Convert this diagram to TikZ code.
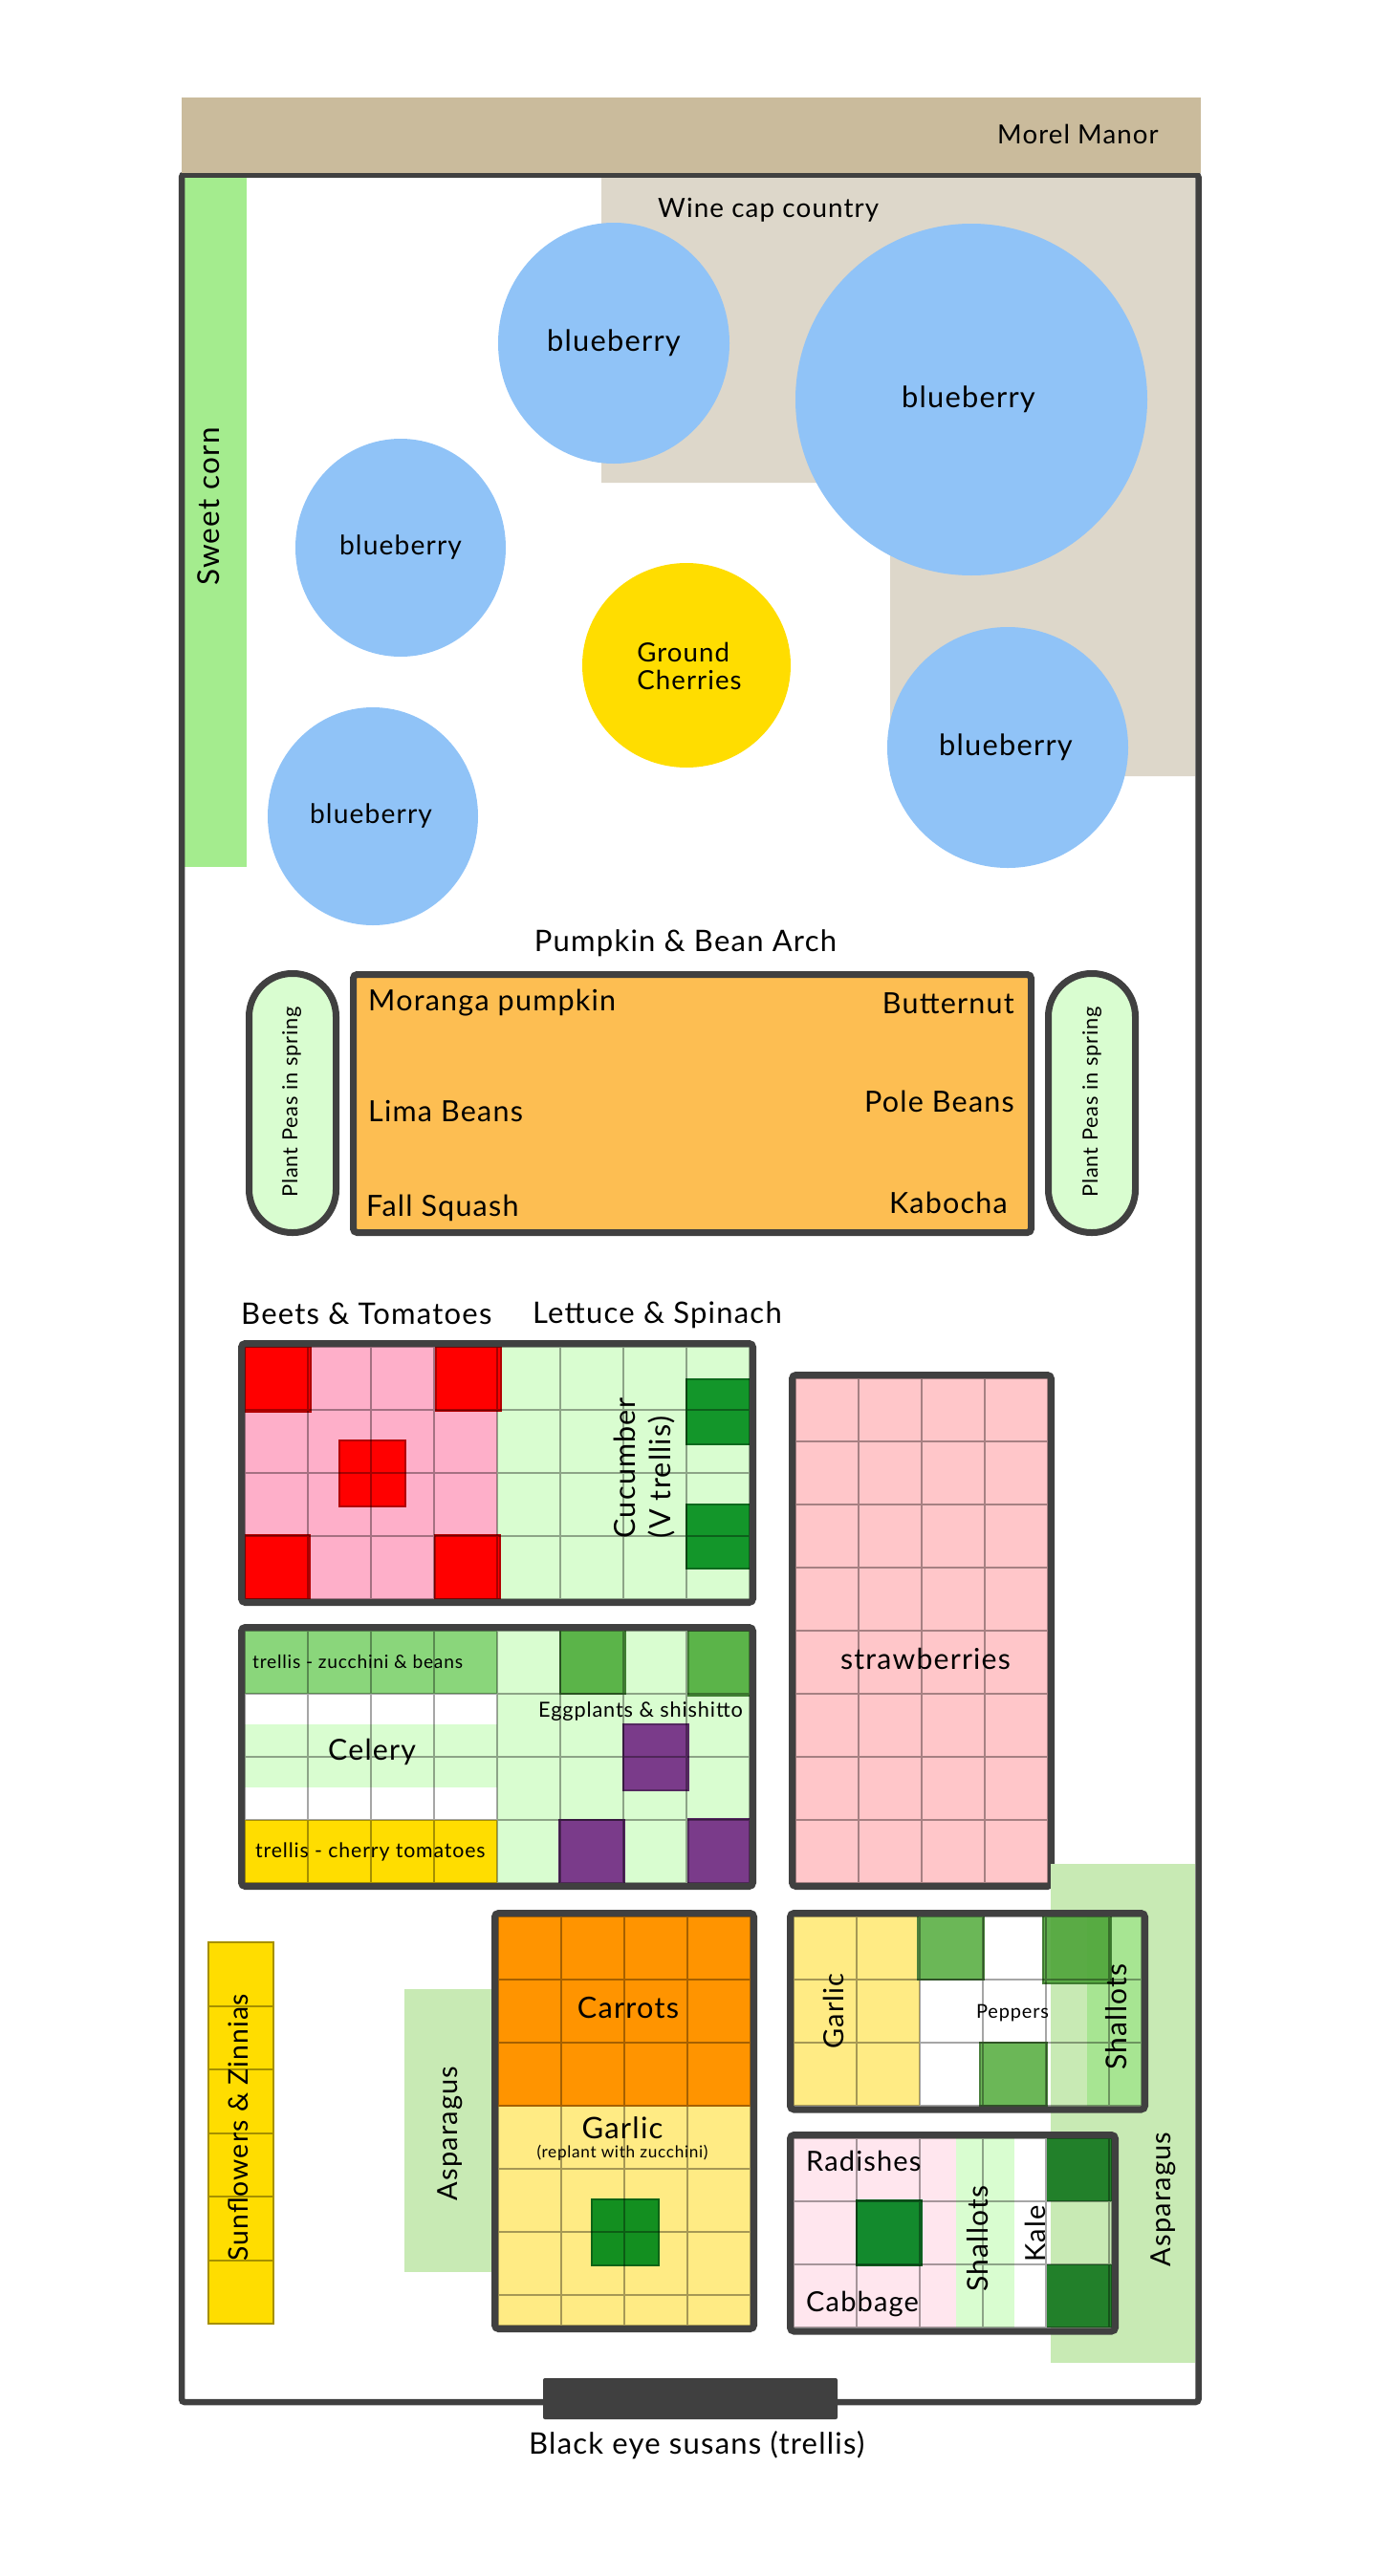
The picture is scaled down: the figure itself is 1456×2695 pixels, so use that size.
\documentclass[tikz,border=0pt]{standalone}
\usepackage{fontspec}
\setmainfont{Lato}[LetterSpace=4.0]

\definecolor{manor}{HTML}{CABB9C}
\definecolor{winecap}{HTML}{DDD7CA}
\definecolor{corn}{HTML}{A4EC8E}
\definecolor{berry}{HTML}{90C3F7}
\definecolor{sun}{HTML}{FFDD00}
\definecolor{edge}{HTML}{404040}
\definecolor{arch}{HTML}{FDBE52}
\definecolor{pea}{HTML}{D9FDD0}
\definecolor{beet}{HTML}{FF0000}
\definecolor{beetpink}{HTML}{FEAFC9}
\definecolor{cuke}{HTML}{13962A}
\definecolor{zucchini}{HTML}{8AD67B}
\definecolor{leafy}{HTML}{5BB449}
\definecolor{eggplant}{HTML}{7A3B8A}
\definecolor{straw}{HTML}{FFC6C9}
\definecolor{garlic}{HTML}{FFEB84}
\definecolor{pepper}{HTML}{6BB757}
\definecolor{pepperdark}{HTML}{4FA53A}
\definecolor{shallot}{HTML}{A7E592}
\definecolor{asparagus}{HTML}{C8EAB4}
\definecolor{radish}{HTML}{FFE6EE}
\definecolor{kale}{HTML}{22802A}
\definecolor{cabbage}{HTML}{138A2D}
\definecolor{carrot}{HTML}{FF9400}
\definecolor{sprout}{HTML}{138F20}

% grid of square-foot cells: x0, y0, cols, rows, width, height
\newcommand{\bedcells}[6]{%
  \draw[cell] (#1,#2) rectangle ++(#5,#6)
    foreach \c in {1,...,#3} {({#1+66*\c},#2) -- ++(0,#6)}
    foreach \r in {1,...,#4} {(#1,{#2+66*\r}) -- ++(#5,0)};}

\begin{document}
\begin{tikzpicture}[x=1pt, y=-1pt,
        bed/.style = {draw=edge, line width=7pt, rounded corners=4pt},
        cell/.style = {draw=black, draw opacity=0.35, line width=2.5pt},
        block/.style = {draw=#1!70!black, fill=#1, line width=1.5pt},
        lbl/.style = {inner sep=0pt, font=\fontsize{#1}{#1}\selectfont},
        lbl/.default = 29]

    \useasboundingbox (0,0) rectangle (1456,2695);

    % Wine cap country
    \fill[winecap] (629,185) -- (1250,185) -- (1250,812) -- (931,812)
        -- (931,505) -- (629,505) -- cycle;
    \node[lbl=27.8, anchor=base west] (winecap) at (688,227) {Wine cap country};

    % Sweet corn
    \fill[corn] (193,185) rectangle (258,907);
    \node[lbl=31.5, rotate=90] (corn) at (218,530) {Sweet corn};

    % Blueberries and ground cherries
    \fill[berry] (642,359) ellipse [x radius=121pt, y radius=126pt];
    \fill[berry] (1016,418) circle (184pt);
    \fill[berry] (419,573) ellipse [x radius=110pt, y radius=114pt];
    \fill[berry] (1054,782) circle (126pt);
    \fill[berry] (390,854) ellipse [x radius=110pt, y radius=114pt];
    \fill[sun] (718,696) ellipse [x radius=109pt, y radius=107pt];
    \node[lbl=30.8] (berryA) at (642,359) {blueberry};
    \node[lbl=30.8] (berryB) at (1013,418) {blueberry};
    \node[lbl=28.2] (berryC) at (419,573) {blueberry};
    \node[lbl=30.8] (berryD) at (1052,782) {blueberry};
    \node[lbl=28.2] (berryE) at (388,854) {blueberry};
    \node[align=left, inner sep=0pt, font=\fontsize{27.6}{29}\selectfont]
        (cherries) at (721,697) {Ground\\Cherries};

    % Pumpkin & Bean Arch
    \node[lbl=31, anchor=base] (archlbl) at (717,995) {Pumpkin \& Bean Arch};
    \draw[bed, fill=arch] (369.5,1019.5) rectangle (1078.5,1289.5);
    \draw[bed, fill=pea, rounded corners=45pt] (260.5,1018.5) rectangle (351.5,1289.5);
    \draw[bed, fill=pea, rounded corners=45pt] (1096.5,1018.5) rectangle (1187.5,1289.5);
    \node[lbl=21.8, rotate=90] (peasL) at (305,1153) {Plant Peas in spring};
    \node[lbl=21.8, rotate=90] (peasR) at (1142,1153) {Plant Peas in spring};
    \node[lbl=30.5, anchor=base west] (moranga) at (385,1057) {Moranga pumpkin};
    \node[lbl=30.5, anchor=base west] (lima) at (385,1173) {Lima Beans};
    \node[lbl=30.5, anchor=base west] (fall) at (383,1272) {Fall Squash};
    \node[lbl=30.5, anchor=base east] (butternut) at (1061,1060) {Butternut};
    \node[lbl=30.5, anchor=base east] (pole) at (1061,1163) {Pole Beans};
    \node[lbl=30.5, anchor=base east] (kabocha) at (1054,1269) {Kabocha};

    % Beets & Tomatoes, Lettuce & Spinach
    \node[lbl=31, anchor=base west] (beetslbl) at (252,1385) {Beets \& Tomatoes};
    \node[lbl=31, anchor=base west] (lettucelbl) at (557,1384) {Lettuce \& Spinach};
    \fill[beetpink] (256,1409) rectangle (520,1673);
    \fill[pea] (520,1409) rectangle (784,1673);
    \filldraw[block=beet] (256,1409) rectangle (325,1477);
    \filldraw[block=beet] (456,1409) rectangle (524,1476);
    \filldraw[block=beet] (256,1606) rectangle (324,1673);
    \filldraw[block=beet] (455,1606) rectangle (523,1673);
    \filldraw[block=beet] (355,1507) rectangle (424,1576);
    \filldraw[block=cuke] (718,1443) rectangle (785,1511);
    \filldraw[block=cuke] (718,1574) rectangle (785,1641);
    \bedcells{256}{1409}{8}{4}{528}{264}
    \draw[bed] (252.5,1405.5) rectangle (787.5,1676.5);
    \node[align=left, rotate=90, inner sep=0pt, font=\fontsize{30.5}{37}\selectfont]
        (cucumber) at (674,1536) {Cucumber\\(V trellis)};

    % Celery, trellises, eggplants
    \fill[zucchini] (256,1706) rectangle (520,1772);
    \fill[pea] (256,1804) rectangle (520,1870);
    \fill[sun] (256,1904) rectangle (520,1970);
    \fill[pea] (520,1706) rectangle (784,1970);
    \filldraw[block=leafy] (586,1703) rectangle (654,1772);
    \filldraw[block=leafy] (720,1706) rectangle (787,1774);
    \filldraw[block=eggplant] (652,1804) rectangle (720,1873);
    \filldraw[block=eggplant] (585,1904) rectangle (653,1973);
    \filldraw[block=eggplant] (720,1903) rectangle (787,1972);
    \bedcells{256}{1706}{8}{4}{528}{264}
    \draw[bed] (252.5,1702.5) rectangle (787.5,1973.5);
    \node[lbl=19.2, anchor=base west] (zuke) at (264,1745) {trellis - zucchini \& beans};
    \node[lbl=30.3, anchor=base west] (celery) at (343,1841) {Celery};
    \node[lbl=21.3, anchor=base west] (cherrytom) at (267,1943) {trellis - cherry tomatoes};
    \node[lbl=21.7, anchor=base west] (eggplants) at (563,1796) {Eggplants \& shishitto};

    % Strawberries
    \fill[straw] (832,1442) rectangle (1096,1970);
    \bedcells{832}{1442}{4}{8}{264}{528}
    \draw[bed] (828.5,1438.5) rectangle (1099.5,1973.5);
    \node[lbl=30.2, anchor=base] (strawberries) at (968,1746) {strawberries};

    % Asparagus beds
    \fill[asparagus] (423,2081) rectangle (519,2377);
    \fill[asparagus] (1099,1950) rectangle (1250,2472);
    \node[lbl, rotate=90] (asparagusL) at (471,2232) {Asparagus};
    \node[lbl, rotate=90] (asparagusR) at (1217,2301) {Asparagus};

    % Garlic, peppers, shallots
    \fill[garlic] (830,2005) rectangle (962,2203);
    \fill[white] (962,2005) rectangle (1094,2203);
    \fill[shallot] (1137,2005) rectangle (1194,2203);
    \filldraw[block=pepper] (960,2003) rectangle (1029,2071);
    \filldraw[block=pepper] (1025,2137) rectangle (1095,2203);
    \filldraw[block=pepperdark, opacity=0.9] (1091,2003) rectangle (1162,2075);
    \bedcells{830}{2005}{5}{3}{364}{198}
    \draw[bed] (826.5,2001.5) rectangle (1197.5,2207);
    \node[lbl, rotate=90] (garlicP) at (872,2104) {Garlic};
    \node[lbl=20, anchor=base west] (peppers) at (1021,2111) {Peppers};
    \node[lbl=30, rotate=90] (shallotsP) at (1168,2110) {Shallots};

    % Radishes, cabbage, shallots, kale
    \fill[radish] (830,2237) rectangle (1000,2435);
    \fill[pea] (1000,2237) rectangle (1061,2435);
    \fill[white] (1061,2237) rectangle (1095,2435);
    \fill[kale] (1095,2237) rectangle (1163,2303);
    \fill[kale] (1095,2369) rectangle (1163,2435);
    \filldraw[block=cabbage] (896,2302) rectangle (964,2370);
    \bedcells{830}{2237}{5}{3}{333}{198}
    \draw[bed] (826.5,2233.5) rectangle (1166.5,2439);
    \node[lbl, anchor=base west] (radishes) at (843,2271) {Radishes};
    \node[lbl, anchor=base west] (cabbage) at (843,2418) {Cabbage};
    \node[lbl=30, rotate=90] (shallotsK) at (1023,2342) {Shallots};
    \node[lbl, rotate=90] (kale) at (1083,2337) {Kale};

    % Carrots and garlic
    \fill[carrot] (521,2005) rectangle (785,2204);
    \fill[garlic] (521,2204) rectangle (785,2433);
    \filldraw[block=sprout] (619,2301) rectangle (689,2370);
    \bedcells{521}{2005}{4}{6}{264}{428}
    \draw[bed] (517.5,2001.5) rectangle (788.5,2436.5);
    \node[lbl=30.7, anchor=base] (carrots) at (657,2111) {Carrots};
    \node[lbl=31, anchor=base] (garlicC) at (651,2237) {Garlic};
    \node[lbl=17.2, anchor=base] (replant) at (651,2257) {(replant with zucchini)};

    % Sunflowers & Zinnias
    \filldraw[fill=sun, draw=black!35!sun, line width=2pt] (218,2032) rectangle (286,2431);
    \foreach \y in {2098.5,2165,2231.5,2298,2364.5}
        \draw[draw=black!35!sun, line width=2pt] (218,\y) -- (286,\y);
    \node[lbl=28.3, rotate=90] (sunflowers) at (249,2226) {Sunflowers \& Zinnias};

    % Garden fence and Morel Manor
    \draw[edge, line width=6.5pt, rounded corners=3pt] (190,182.5) rectangle (1253.5,2513);
    \fill[manor] (190,102) rectangle (1256,181);
    \node[lbl=27.6, anchor=base west] (manorlbl) at (1043,150) {Morel Manor};

    % Black eye susans trellis
    \fill[edge, rounded corners=2pt] (568,2488) rectangle (876,2531);
    \node[lbl=31, anchor=base west] (susans) at (553,2567) {Black eye susans (trellis)};

\end{tikzpicture}
\end{document}
